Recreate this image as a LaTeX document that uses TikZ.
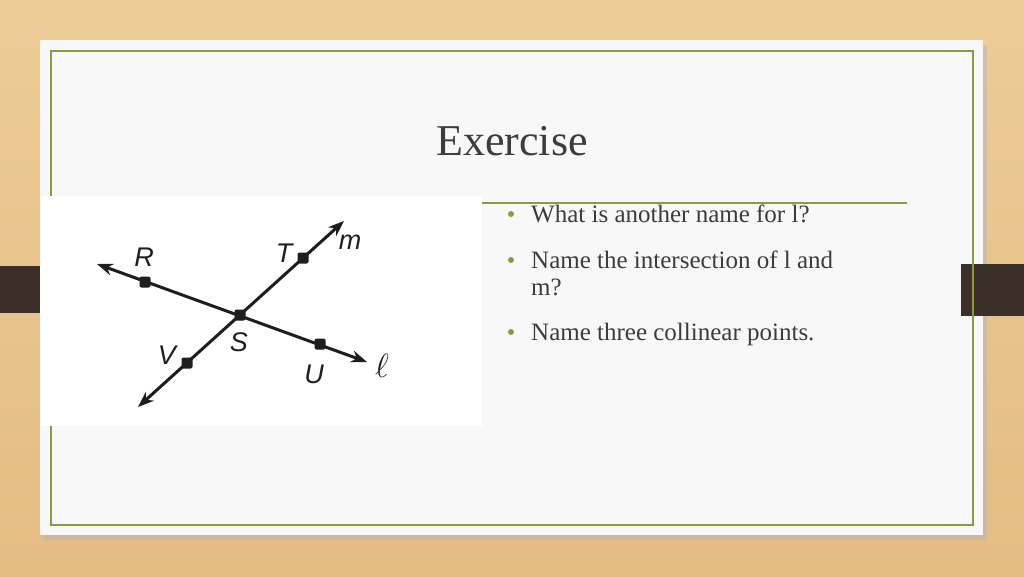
\documentclass[tikz,border=0pt]{standalone}
\usepackage{fontspec}
\usepackage{graphicx}
\setmainfont{Liberation Serif}
\newfontfamily\labfont{Liberation Sans}
\usetikzlibrary{arrows.meta}
\definecolor{wood}{HTML}{E4BC84}
\definecolor{woodlight}{HTML}{EDCC96}
\definecolor{tab}{HTML}{3A3029}
\definecolor{card}{HTML}{F8F8F8}
\definecolor{olive}{HTML}{8A9C42}
\definecolor{ink}{HTML}{3C3C3C}
\definecolor{geo}{HTML}{1E1E1E}
\tikzset{
  bodytext/.style={anchor=base west, inner sep=0pt, font=\fontsize{25}{29}\selectfont, text=ink},
  bulletdot/.style={circle, fill=olive, inner sep=0pt, minimum size=6pt},
  ptdot/.style={rectangle, fill=geo, inner sep=0pt, minimum size=11pt, rounded corners=2pt},
  ptlabel/.style={inner sep=0pt, font=\labfont\itshape\fontsize{27}{27}\selectfont, text=geo},
  geoline/.style={draw=geo, line width=3pt, {Stealth[length=16pt,width=12pt]}-{Stealth[length=16pt,width=12pt]}},
}
\begin{document}
\begin{tikzpicture}[x=1pt,y=-1pt]
\useasboundingbox (0,0) rectangle (1024,576);
% background
\fill[top color=woodlight, bottom color=wood] (0,0) rectangle (1024,576);
% card shadow and card
\fill[black!30, opacity=0.45] (44,46) rectangle (987,540);
\fill[card] (40,40) rectangle (983,535);
% tabs
\fill[tab] (0,266) rectangle (44,313);
\fill[tab] (961,264) rectangle (1024,316);
% green frame
\draw[olive, line width=1.3pt] (51,51) rectangle (973,525);
% title
\node[anchor=base, inner sep=0pt, font=\fontsize{44}{50}\selectfont, text=ink] (title) at (512,155) {Exercise};
% divider
\coordinate (dvA) at (482,203);
\coordinate (dvB) at (907,203);
\draw[olive, line width=1.3pt] (dvA) -- (dvB);
% image area
\fill[white] (40,196) rectangle (482,426);
% geometry
\coordinate (lA) at (97,264);
\coordinate (lB) at (367,362);
\coordinate (mA) at (344,221);
\coordinate (mB) at (138,407);
\draw[geoline] (lA) -- (lB);
\draw[geoline] (mB) -- (mA);
\node[ptdot] (R) at (145,282) {};
\node[ptdot] (S) at (240,315) {};
\node[ptdot] (U) at (320,344) {};
\node[ptdot] (T) at (303,258) {};
\node[ptdot] (V) at (187,363) {};
\node[ptlabel] (Rl) at (144,257) {R};
\node[ptlabel] (Tl) at (284,253) {T};
\node[ptlabel] (Sl) at (239,342) {S};
\node[ptlabel] (Vl) at (167,355) {V};
\node[ptlabel] (Ul) at (314,374) {U};
\node[ptlabel] (ml) at (350,242) {m};
\node[inner sep=0pt, text=geo, font=\fontsize{24}{24}\selectfont] (ll) at (382,366) {\scalebox{1.35}{$\ell$}};
% bullets
\node[bulletdot] (b1) at (511,214) {};
\node[bodytext] (t1) at (531,222) {What is another name for l?};
\node[bulletdot] (b2) at (511,260) {};
\node[bodytext] (t2) at (531,268) {Name the intersection of l and};
\node[bodytext] (t2b) at (531,295) {m?};
\node[bulletdot] (b3) at (511,332) {};
\node[bodytext] (t3) at (531,340) {Name three collinear points.};
\end{tikzpicture}
\end{document}
